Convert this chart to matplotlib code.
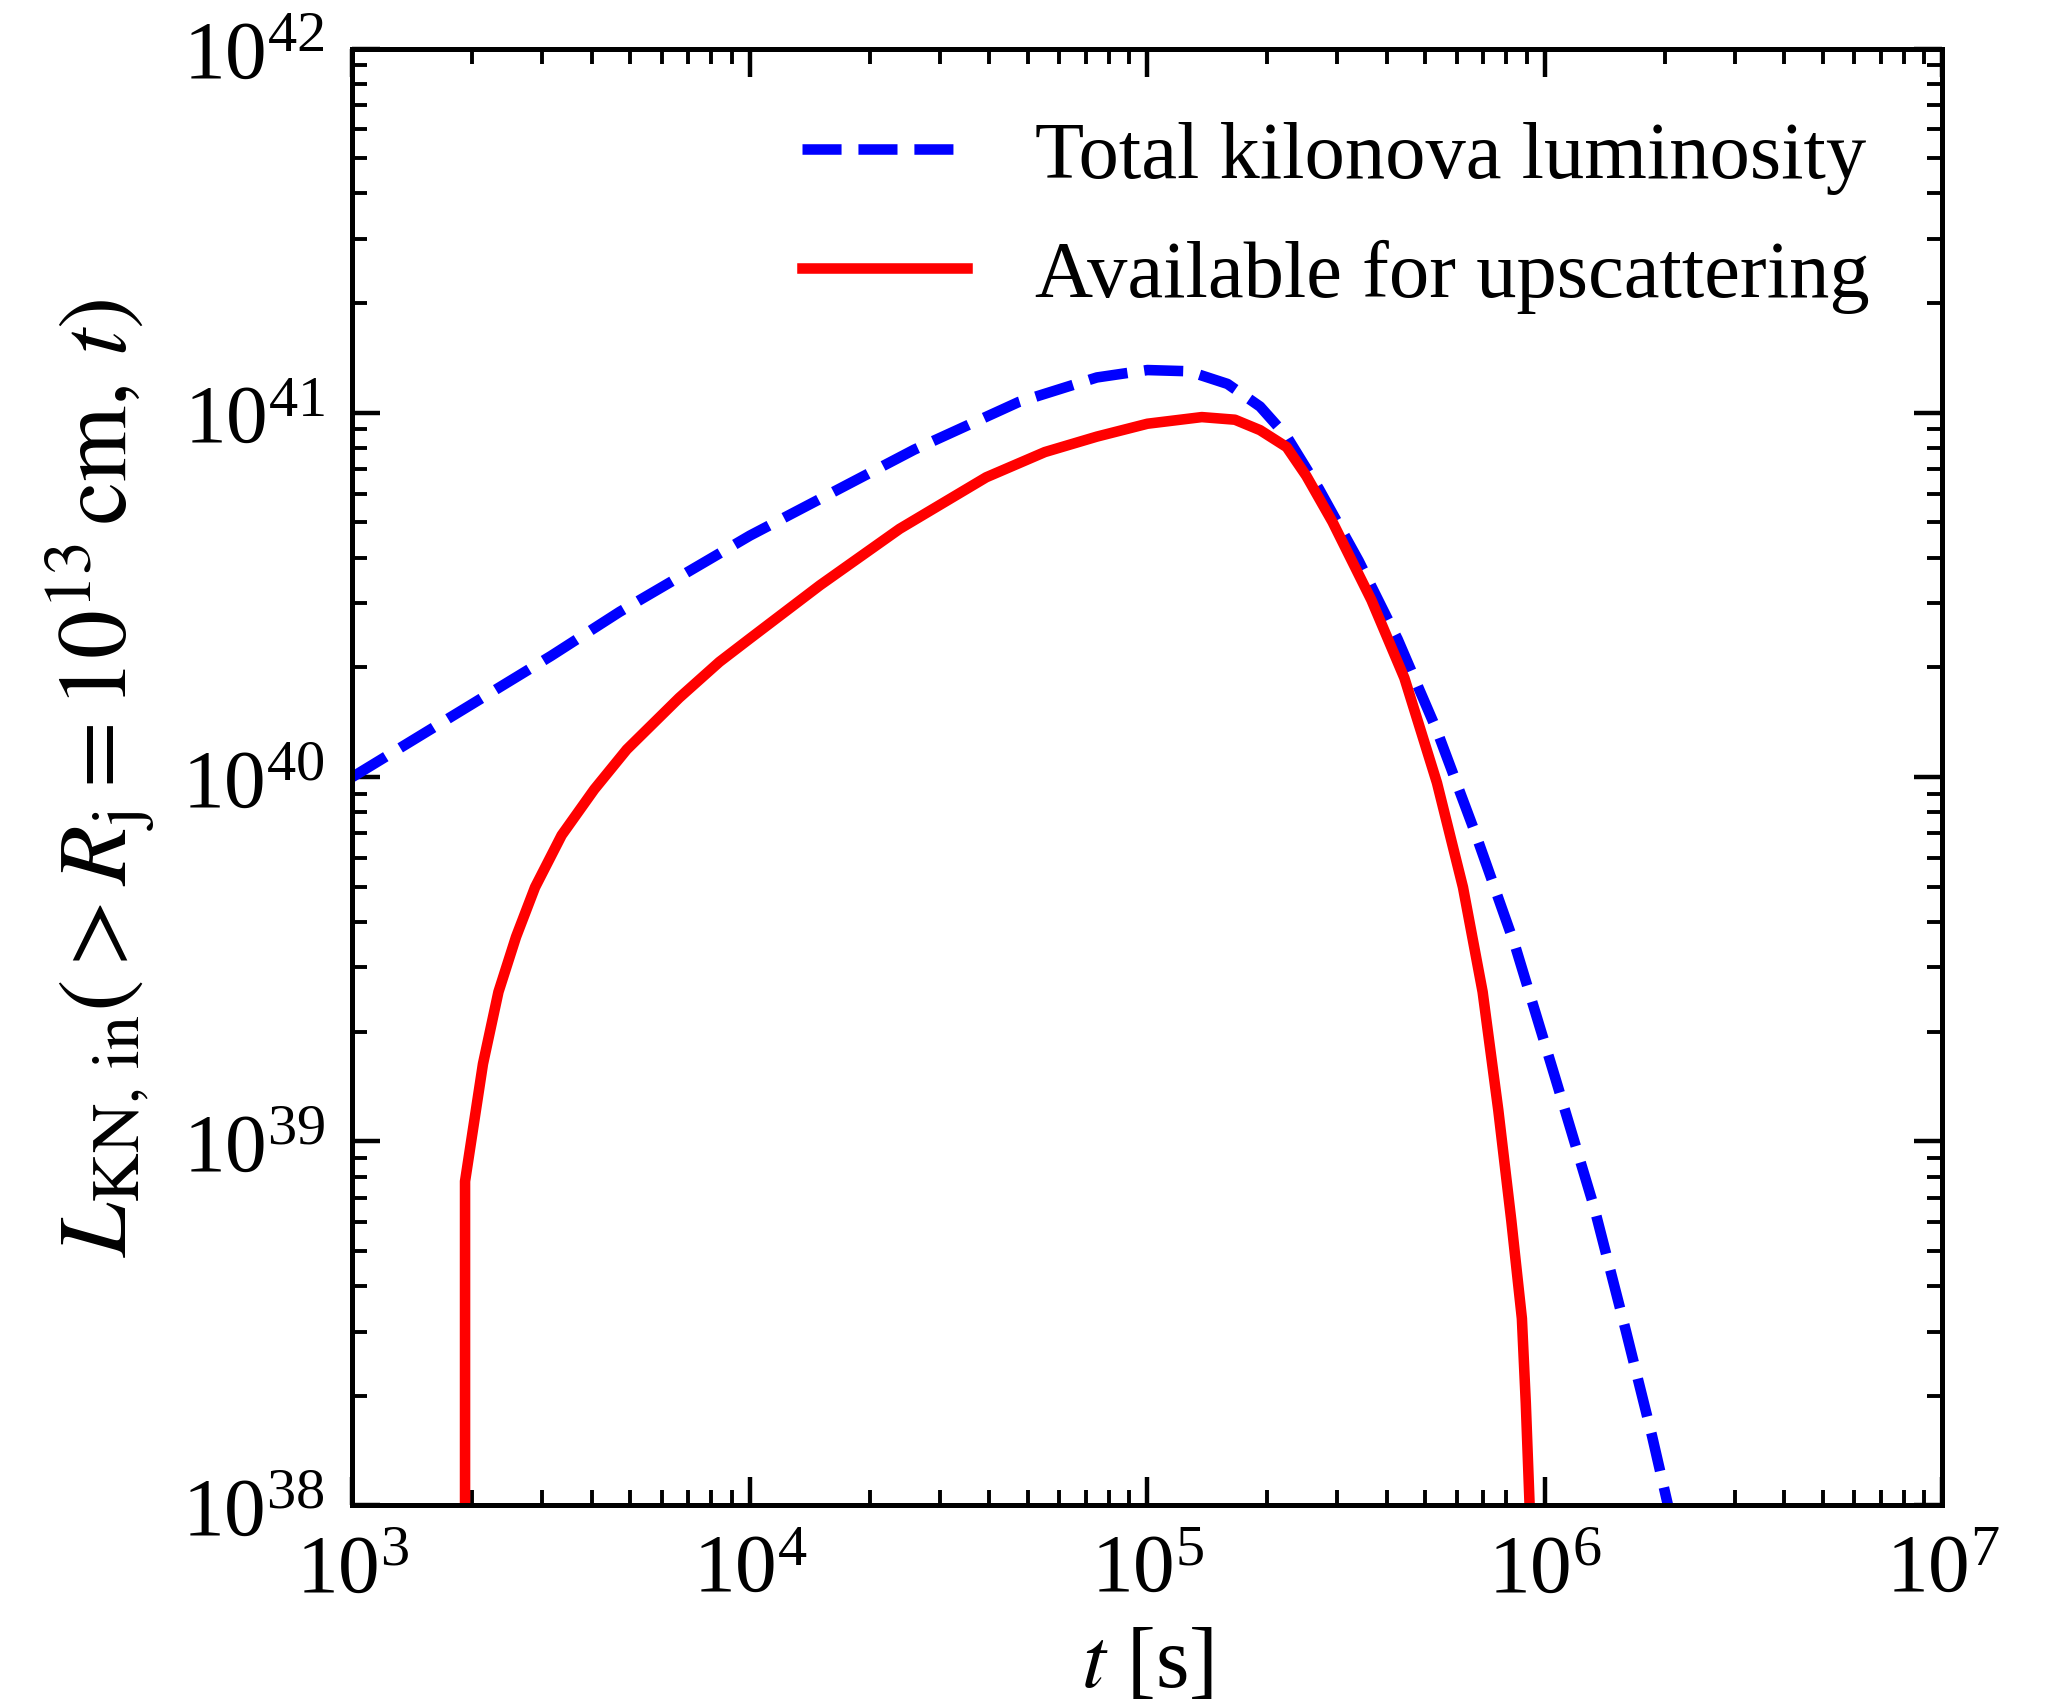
import numpy as np
import matplotlib
matplotlib.use('Agg')
import matplotlib.pyplot as plt

plt.rcParams['font.family'] = 'serif'
plt.rcParams['font.serif'] = ['Liberation Serif', 'DejaVu Serif']
plt.rcParams['mathtext.fontset'] = 'stix'

# total kilonova luminosity (blue dashed)
t_total = [1.0e3, 3.16e3, 4.70e3, 1.0e4, 2.59e4, 4.74e4, 7.46e4, 1.0e5, 1.27e5, 1.59e5,
           1.92e5, 2.24e5, 2.70e5, 3.40e5, 4.26e5, 5.35e5, 6.71e5, 8.42e5,
           1.06e6, 1.33e6, 1.60e6, 1.86e6, 2.04e6, 2.2e6]
L_total = [1.0e40, 2.15e40, 2.84e40, 4.6e40, 7.92e40, 1.07e41, 1.25e41, 1.31e41, 1.30e41, 1.20e41,
           1.04e41, 8.61e40, 6.18e40, 3.92e40, 2.39e40, 1.34e40, 6.92e39, 3.43e39,
           1.50e39, 6.58e38, 3.00e38, 1.55e38, 1.0e38, 7.0e37]

# luminosity available for upscattering (red solid)
t_avail = [1.92e3, 1.92e3, 2.13e3, 2.33e3, 2.58e3, 2.88e3, 3.36e3, 4.06e3, 4.90e3,
           6.64e3, 8.38e3, 1.0e4, 1.50e4, 2.38e4, 3.93e4, 5.52e4, 7.46e4,
           1.0e5, 1.37e5, 1.66e5, 1.92e5, 2.24e5, 2.51e5, 2.92e5, 3.66e5, 4.43e5,
           5.35e5, 6.22e5, 6.97e5, 7.63e5, 8.23e5, 8.75e5, 8.95e5, 9.15e5, 9.3e5]
L_avail = [1.0e36, 7.76e38, 1.63e39, 2.57e39, 3.64e39, 4.98e39, 6.92e39, 9.25e39, 1.19e40,
           1.65e40, 2.07e40, 2.40e40, 3.36e40, 4.80e40, 6.65e40, 7.80e40, 8.60e40,
           9.33e40, 9.73e40, 9.57e40, 8.96e40, 8.05e40, 6.71e40, 5.02e40, 3.06e40, 1.87e40,
           9.64e39, 4.98e39, 2.57e39, 1.22e39, 6.05e38, 3.26e38, 1.91e38, 1.0e38, 1.0e36]

fig = plt.figure(figsize=(10.245, 8.54), dpi=200)
ax = fig.add_axes([0.172, 0.118, 0.776, 0.853])

ax.plot(t_total, L_total, '--', color='blue', lw=3.8, label='Total kilonova luminosity')
ax.plot(t_avail, L_avail, '-', color='red', lw=3.8, label='Available for upscattering')

ax.set_xscale('log')
ax.set_yscale('log')
ax.set_xlim(1e3, 1e7)
ax.set_ylim(1e38, 1e42)

ax.set_xlabel(r'$t$ [s]', fontsize=31, labelpad=6)
ax.set_ylabel(r'$L_{\rm KN,\, in}(>R_{\rm j}=10^{13}\,{\rm cm},\, t)$', fontsize=35, labelpad=9)

ax.tick_params(which='both', direction='in', top=True, right=True, labelsize=30)
ax.tick_params(which='major', length=10, width=1.6, pad=10)
ax.tick_params(which='minor', length=5.5, width=1.4)
for sp in ax.spines.values():
    sp.set_linewidth(1.8)

ax.legend(loc='upper right', frameon=False, fontsize=29, handlelength=2.05,
          handletextpad=0.85, labelspacing=0.55, borderaxespad=0.5)

fig.savefig('out.png', dpi=200)
